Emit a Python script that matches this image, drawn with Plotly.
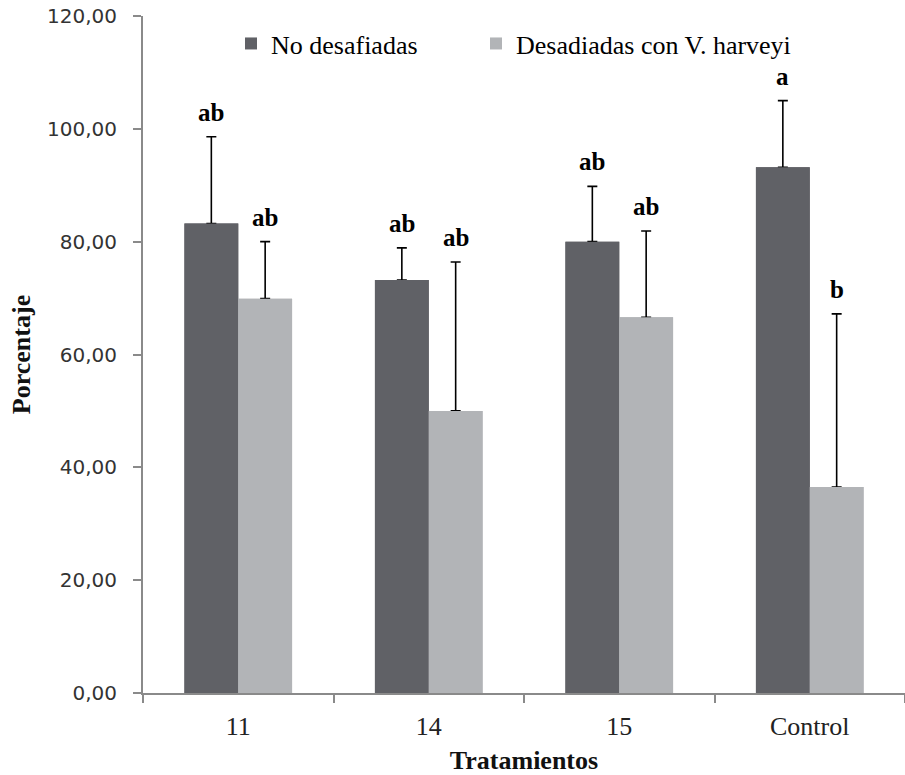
import plotly.graph_objects as go

categories = ["11", "14", "15", "Control"]
no_desafiadas = [83.2, 73.2, 80.0, 93.2]
no_desafiadas_err = [15.4, 5.7, 9.8, 11.8]
desafiadas = [69.9, 50.0, 66.6, 36.5]
desafiadas_err = [10.1, 26.4, 15.3, 30.7]
letters_no = ["ab", "ab", "ab", "a"]
letters_des = ["ab", "ab", "ab", "b"]
ytick_vals = [0, 20, 40, 60, 80, 100, 120]
ytick_text = ["0,00", "20,00", "40,00", "60,00", "80,00", "100,00", "120,00"]

DARK = "#606166"
LIGHT = "#b2b4b7"
AXIS = "#8a8a8a"
SERIF = "Liberation Serif, Times New Roman, serif"
BARGAP = 0.435

fig = go.Figure()
fig.add_trace(go.Bar(
    name="No desafiadas", x=categories, y=no_desafiadas, marker_color=DARK,
    marker_line_width=0, offsetgroup="a", legend="legend",
    error_y=dict(type="data", array=no_desafiadas_err, arrayminus=[0]*4, symmetric=False,
                 color="black", thickness=1.6, width=5),
))
fig.add_trace(go.Bar(
    name="Desadiadas con V. harveyi", x=categories, y=desafiadas, marker_color=LIGHT,
    marker_line_width=0, offsetgroup="b", legend="legend2",
    error_y=dict(type="data", array=desafiadas_err, arrayminus=[0]*4, symmetric=False,
                 color="black", thickness=1.6, width=5),
))
# same bars drawn again on top so the error bars start cleanly at the bar tops
fig.add_trace(go.Bar(x=categories, y=no_desafiadas, marker_color=DARK, marker_line_width=0,
                     offsetgroup="a", showlegend=False, hoverinfo="skip"))
fig.add_trace(go.Bar(x=categories, y=desafiadas, marker_color=LIGHT, marker_line_width=0,
                     offsetgroup="b", showlegend=False, hoverinfo="skip"))

off = (1 - BARGAP) / 4
for i in range(len(categories)):
    fig.add_annotation(x=i - off, y=no_desafiadas[i] + no_desafiadas_err[i], text="<b>%s</b>" % letters_no[i],
                       showarrow=False, yanchor="bottom", yshift=9,
                       font=dict(family=SERIF, size=25, color="black"))
    fig.add_annotation(x=i + off, y=desafiadas[i] + desafiadas_err[i], text="<b>%s</b>" % letters_des[i],
                       showarrow=False, yanchor="bottom", yshift=9,
                       font=dict(family=SERIF, size=25, color="black"))

legend_common = dict(orientation="h", yanchor="top", y=0.994, xanchor="left",
                     font=dict(family=SERIF, size=26, color="black"),
                     bgcolor="rgba(0,0,0,0)", itemwidth=30)

fig.update_layout(
    width=905, height=775,
    margin=dict(l=143, r=0, t=16, b=82),
    paper_bgcolor="white", plot_bgcolor="white",
    barmode="group", bargap=BARGAP, bargroupgap=0,
    showlegend=True,
    legend=dict(x=0.1155, **legend_common),
    legend2=dict(x=0.437, **legend_common),
)
fig.update_xaxes(
    type="category", showline=True, linecolor=AXIS, linewidth=2,
    ticks="outside", tickson="boundaries", ticklen=8, tickcolor=AXIS, tickwidth=2,
    tickfont=dict(family=SERIF, size=26, color="#222"), ticklabelstandoff=9,
    title=dict(text="<b>Tratamientos</b>", font=dict(family=SERIF, size=26, color="#111"), standoff=18),
    showgrid=False, zeroline=False, automargin=False,
)
fig.update_yaxes(
    range=[0, 120], tickvals=ytick_vals, ticktext=ytick_text,
    showline=True, linecolor=AXIS, linewidth=2,
    ticks="outside", ticklen=8, tickcolor=AXIS, tickwidth=2,
    tickfont=dict(family="DejaVu Sans, Verdana, sans-serif", size=20, color="#333"),
    ticklabelstandoff=12, ticklabeloverflow="allow",
    title=dict(text="<b>Porcentaje</b>", font=dict(family=SERIF, size=26, color="#111"), standoff=9),
    showgrid=False, zeroline=False, automargin=False,
)

fig.write_html("out.html", config={"displayModeBar": False},
               post_script="document.body.style.margin='0px';")
